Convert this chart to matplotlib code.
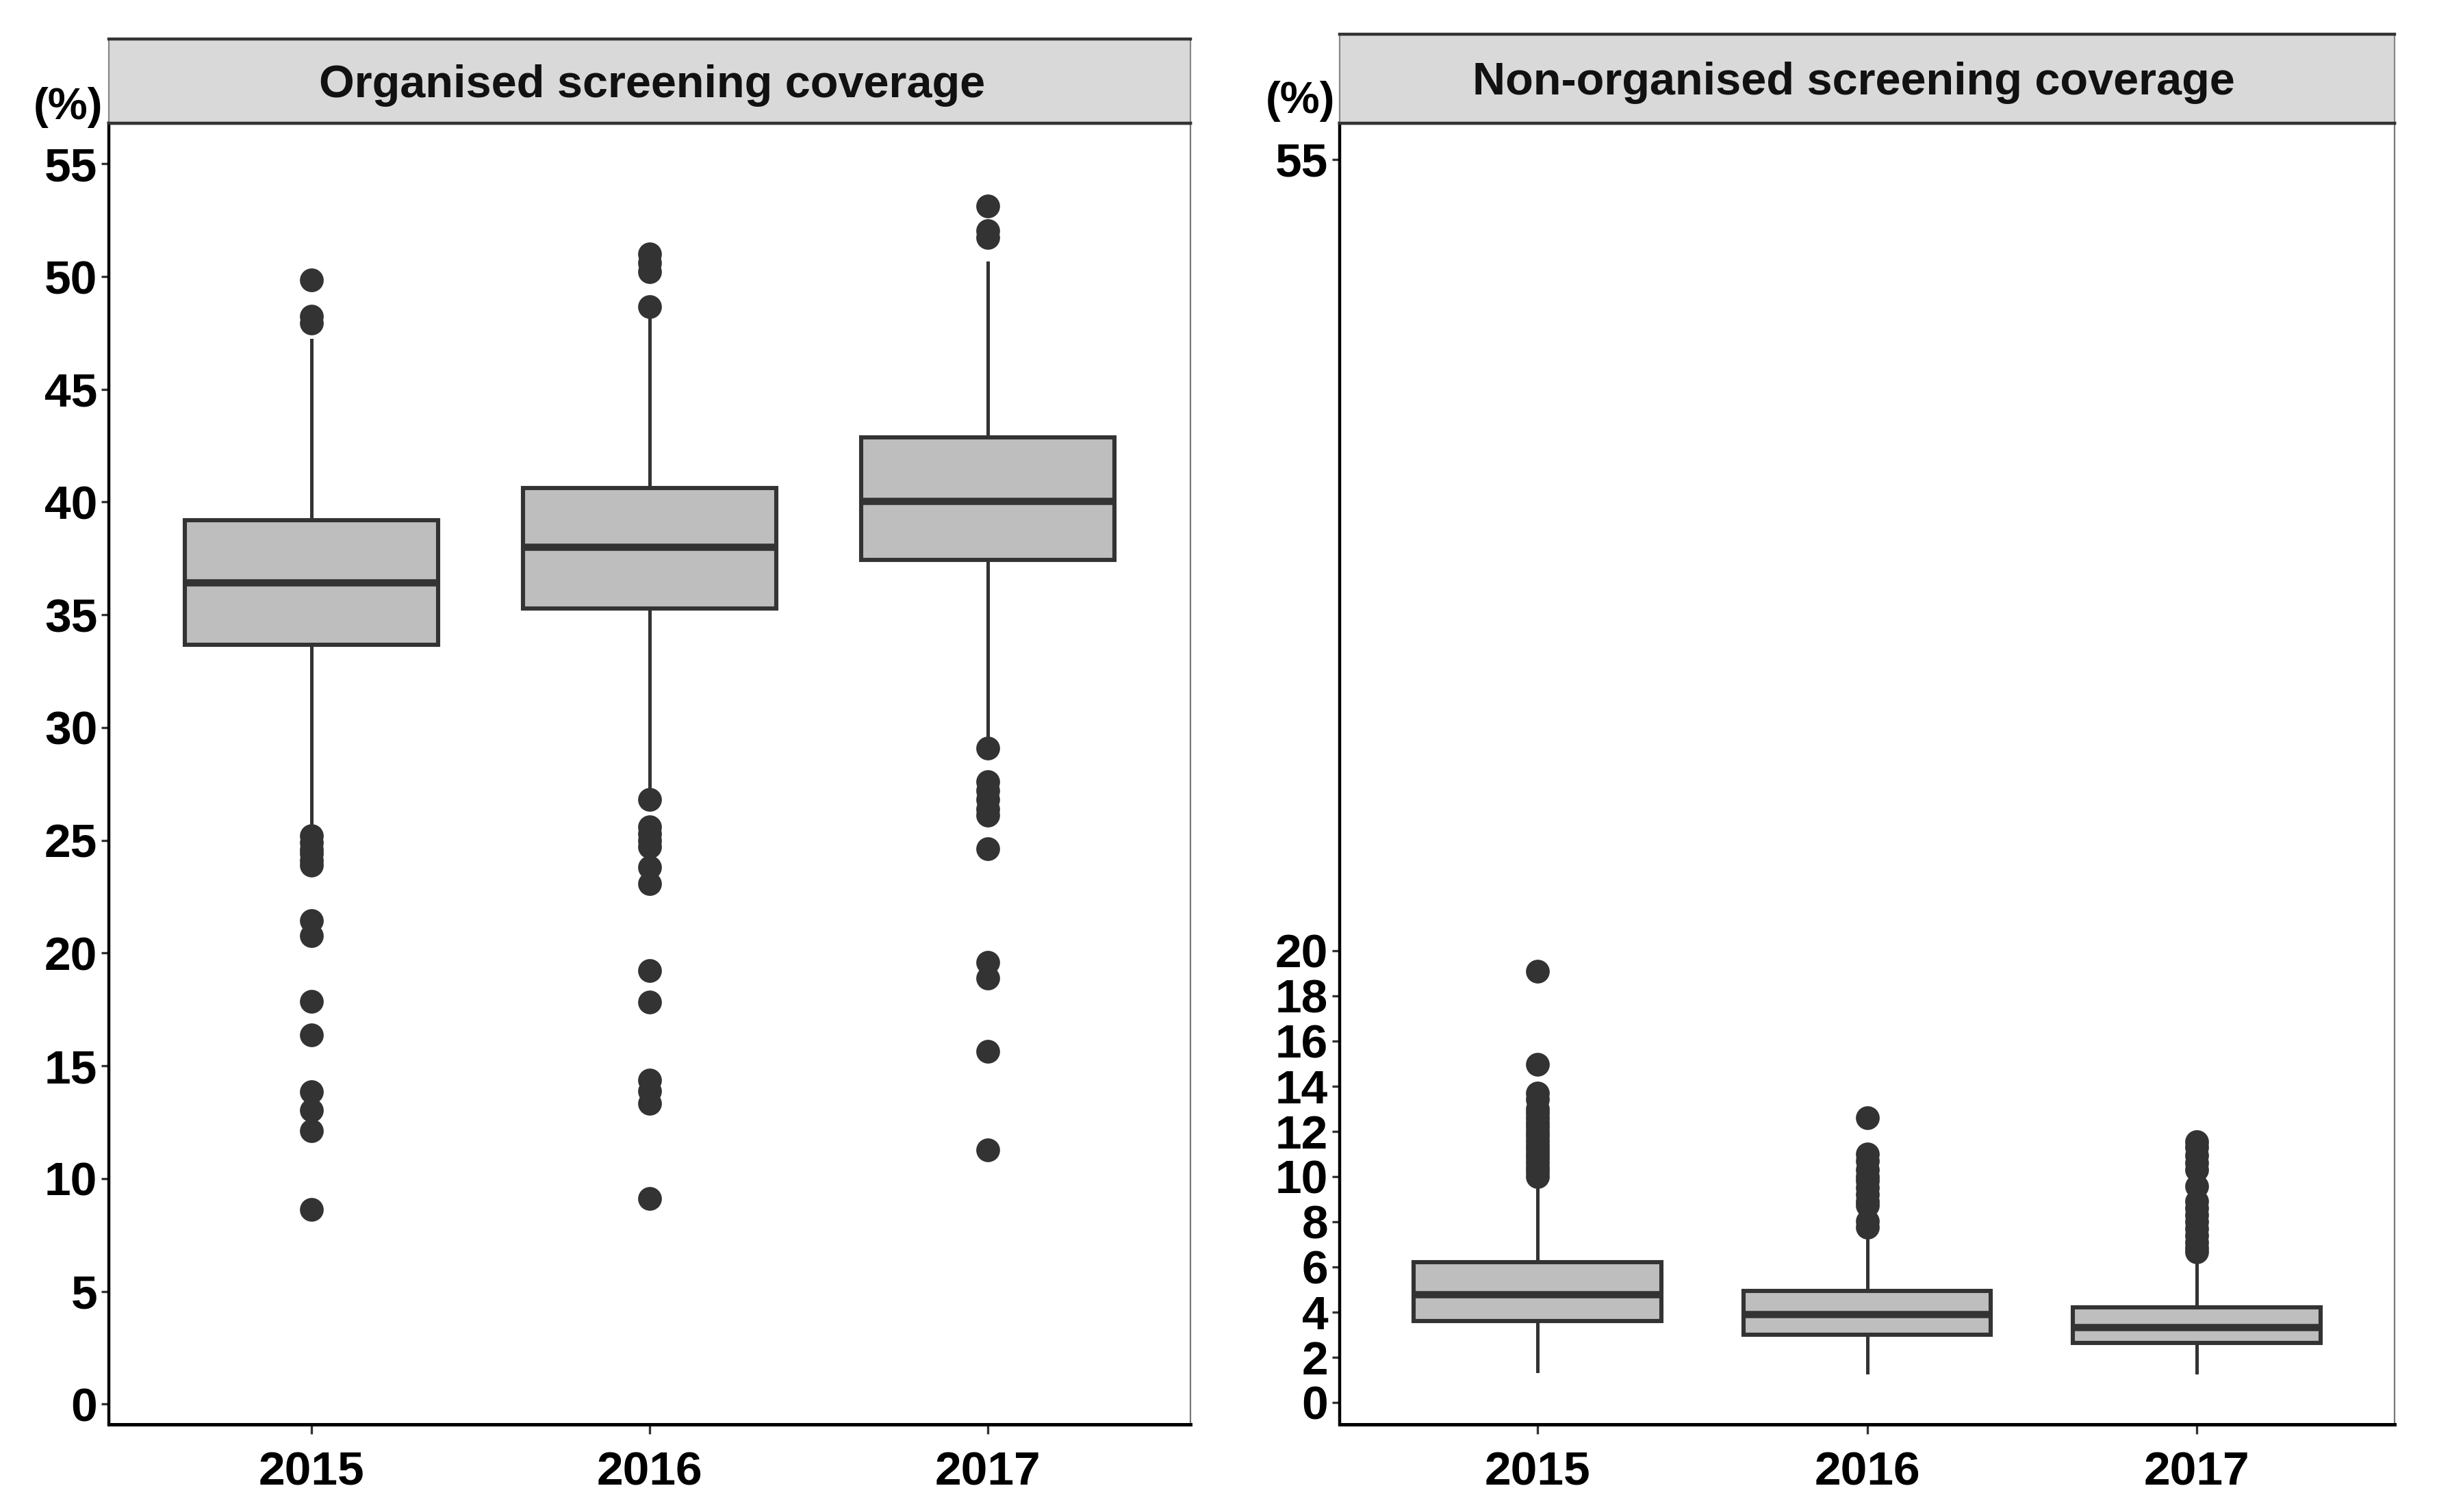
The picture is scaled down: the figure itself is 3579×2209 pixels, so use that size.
import matplotlib
matplotlib.use("Agg")
import matplotlib.pyplot as plt

plt.rcParams['font.family'] = ['Liberation Sans', 'DejaVu Sans']
plt.rcParams['font.weight'] = 'bold'

years = ['2015', '2016', '2017']

# organised screening coverage (%)
org_q1 = [33.67, 35.29, 37.42]
org_med = [36.42, 38.02, 40.06]
org_q3 = [39.20, 40.62, 42.87]
org_lo = [25.45, 27.35, 29.45]
org_hi = [47.17, 48.33, 50.61]
org_out_2015 = [49.84, 48.23, 47.94, 25.2, 24.9, 24.6, 24.4, 24.1, 23.9,
                21.44, 20.76, 17.86, 16.37, 13.84, 13.02, 12.11, 8.63]
org_out_2016 = [51.0, 50.6, 50.2, 48.66, 26.82, 25.6, 25.3, 25.0, 24.73,
                23.8, 23.08, 19.21, 17.82, 14.38, 13.89, 13.35, 9.11]
org_out_2017 = [53.13, 52.04, 51.72, 29.1, 27.6, 27.2, 26.8, 26.4, 26.1,
                24.63, 19.6, 18.89, 15.64, 11.26]

# non-organised screening coverage (%)
non_q1 = [3.60, 2.99, 2.62]
non_med = [4.78, 3.90, 3.32]
non_q3 = [6.22, 4.95, 4.21]
non_lo = [1.40, 1.32, 1.32]
non_hi = [9.80, 7.50, 6.36]
non_out_2015 = [19.09, 14.96, 13.68, 13.4, 13.0, 12.8, 12.6, 12.4, 12.2, 12.0,
                11.8, 11.6, 11.4, 11.2, 11.0, 10.8, 10.6, 10.4, 10.2, 10.0]
non_out_2016 = [12.59, 11.0, 10.7, 10.3, 10.0, 9.8, 9.5, 9.2, 8.9, 8.73, 8.02, 7.76]
non_out_2017 = [11.54, 11.3, 10.92, 10.6, 10.3, 9.57, 8.9, 8.6, 8.3, 8.0,
                7.7, 7.4, 7.1, 6.85, 6.65]

W, H = 3579, 2209
fig = plt.figure(figsize=(W / 200, H / 200), dpi=200)
dark = '#333333'
BOT = 2081
TOP = 180


def stats(q1, med, q3, lo, hi, outs):
    res = []
    for i in range(len(q1)):
        res.append(dict(q1=q1[i], med=med[i], q3=q3[i], whislo=lo[i], whishi=hi[i],
                        fliers=outs[i], label=years[i]))
    return res


def panel(x0, x1, strip_top, ylim, yticks, title, title_x, st, pct_xy):
    left = x0 / W
    width = (x1 - x0) / W
    bottom = (H - BOT) / H
    height = (BOT - TOP) / H
    ax = fig.add_axes([left, bottom, width, height])
    ax.bxp(st, positions=[1, 2, 3], widths=0.75, patch_artist=True, showcaps=False,
           boxprops=dict(facecolor='#bebebe', edgecolor=dark, linewidth=2.2),
           medianprops=dict(color=dark, linewidth=3.8),
           whiskerprops=dict(color=dark, linewidth=1.8),
           flierprops=dict(marker='o', markerfacecolor=dark, markeredgecolor=dark,
                           markersize=11.5))
    ax.set_xlim(0.4, 3.6)
    ax.set_ylim(*ylim)
    ax.set_yticks(yticks)
    ax.set_yticklabels([str(t) for t in yticks])
    ax.set_xticks([1, 2, 3])
    ax.set_xticklabels(years)
    ax.tick_params(axis='y', labelsize=25, length=4, width=1.2, color=dark, pad=2)
    ax.tick_params(axis='x', labelsize=25, length=5, width=1.2, color=dark, pad=9)
    for lab in ax.get_xticklabels() + ax.get_yticklabels():
        lab.set_fontweight('bold')
    ax.spines['left'].set_color('black')
    ax.spines['left'].set_linewidth(1.6)
    ax.spines['bottom'].set_color('black')
    ax.spines['bottom'].set_linewidth(1.8)
    ax.spines['top'].set_color(dark)
    ax.spines['top'].set_linewidth(1.6)
    ax.spines['right'].set_color('#777777')
    ax.spines['right'].set_linewidth(0.8)

    # facet strip
    sax = fig.add_axes([left, (H - TOP) / H, width, (TOP - strip_top) / H])
    sax.set_facecolor('#d9d9d9')
    sax.set_xticks([])
    sax.set_yticks([])
    for s in ['top', 'bottom']:
        sax.spines[s].set_color(dark)
        sax.spines[s].set_linewidth(1.6)
    for s in ['left', 'right']:
        sax.spines[s].set_color('#888888')
        sax.spines[s].set_linewidth(0.8)
    sax.text(title_x, 0.45, title, ha='center', va='center', fontsize=24,
             fontweight='bold', color='#111111', transform=sax.transAxes)

    fig.text(pct_xy[0] / W, 1 - pct_xy[1] / H, '(%)', ha='right', va='center',
             fontsize=23.5, fontweight='bold')
    return ax


panel(159, 1739, 57, (-0.9, 56.8), list(range(0, 56, 5)),
      'Organised screening coverage', 0.502,
      stats(org_q1, org_med, org_q3, org_lo, org_hi,
            [org_out_2015, org_out_2016, org_out_2017]), (150, 157))

panel(1957, 3498, 50, (-0.97, 56.6), list(range(0, 21, 2)) + [55],
      'Non-organised screening coverage', 0.487,
      stats(non_q1, non_med, non_q3, non_lo, non_hi,
            [non_out_2015, non_out_2016, non_out_2017]), (1950, 148))

fig.savefig('out.png', dpi=200, facecolor='white')
